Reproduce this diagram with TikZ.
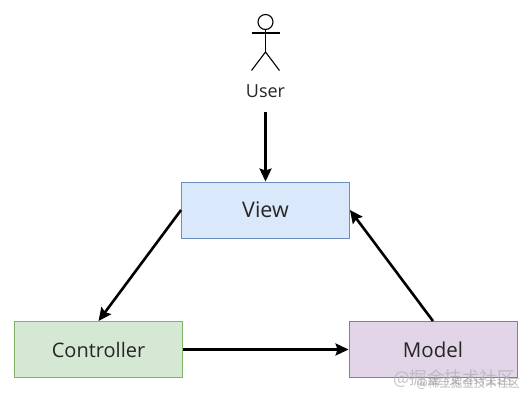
\documentclass[tikz,border=0pt]{standalone}
\usepackage{fontspec}
\setmainfont{Open Sans}
\newfontfamily\cjk{Noto Sans CJK SC}
\usetikzlibrary{arrows.meta}
\definecolor{vfill}{HTML}{DAE8FC}\definecolor{vline}{HTML}{6C8EBF}
\definecolor{cfill}{HTML}{D5E8D4}\definecolor{cline}{HTML}{82B366}
\definecolor{mfill}{HTML}{E1D5E7}\definecolor{mline}{HTML}{9673A6}
\tikzset{
  box/.style={draw=#1, line width=0.9pt, minimum width=168pt, minimum height=56pt, inner sep=0pt, text=black!85},
  flow/.style={line width=2.6pt, -{Stealth[length=13pt,width=12pt,inset=2pt]}, black},
  stick/.style={line width=1.1pt, black},
  mark1/.style={text=black!30, font=\cjk\fontsize{17.5}{20}\selectfont, inner sep=0pt, opacity=0.75},
  mark2/.style={text=black!38, font=\cjk\fontsize{11.5}{14}\selectfont, inner sep=0pt, opacity=0.75}
}
\begin{document}
\begin{tikzpicture}[x=1pt,y=-1pt]
\useasboundingbox (0,0) rectangle (532,402);
\fill[white] (0,0) rectangle (532,402);
\node[box=vline, fill=vfill, font=\fontsize{21.5}{25}\selectfont] (view) at (265.5,210) {View};
\node[box=cline, fill=cfill, font=\fontsize{20}{24}\selectfont] (ctrl) at (98.5,349.5) {Controller};
\node[box=mline, fill=mfill, font=\fontsize{20.5}{24}\selectfont] (model) at (433,349.5) {Model};
% user actor
\draw[stick] (265.5,22) circle (7.5);
\coordinate (neck) at (265.5,29.5);
\coordinate (hip) at (265.5,52);
\draw[stick] (neck) -- (hip);
\draw[stick] (251.5,33) -- (279.5,33);
\draw[stick] (251.5,70.5) -- (hip) -- (279.5,70.5);
\node[inner sep=0pt, font=\fontsize{18}{21}\selectfont, text=black!85] (user) at (265.5,91) {User};
\coordinate (userout) at (265.5,112);
\draw[flow] (userout) -- (view.north);
\draw[flow] (view.west) -- (ctrl.north);
\draw[flow] (ctrl.east) -- (model.west);
\draw[flow] (model.north) -- (view.east);
\node[mark1, anchor=west] (wm1) at (393,379) {@掘金技术社区};
\node[mark2, anchor=east] (wm2) at (520,384) {@稀土掘金技术社区};
\end{tikzpicture}
\end{document}
